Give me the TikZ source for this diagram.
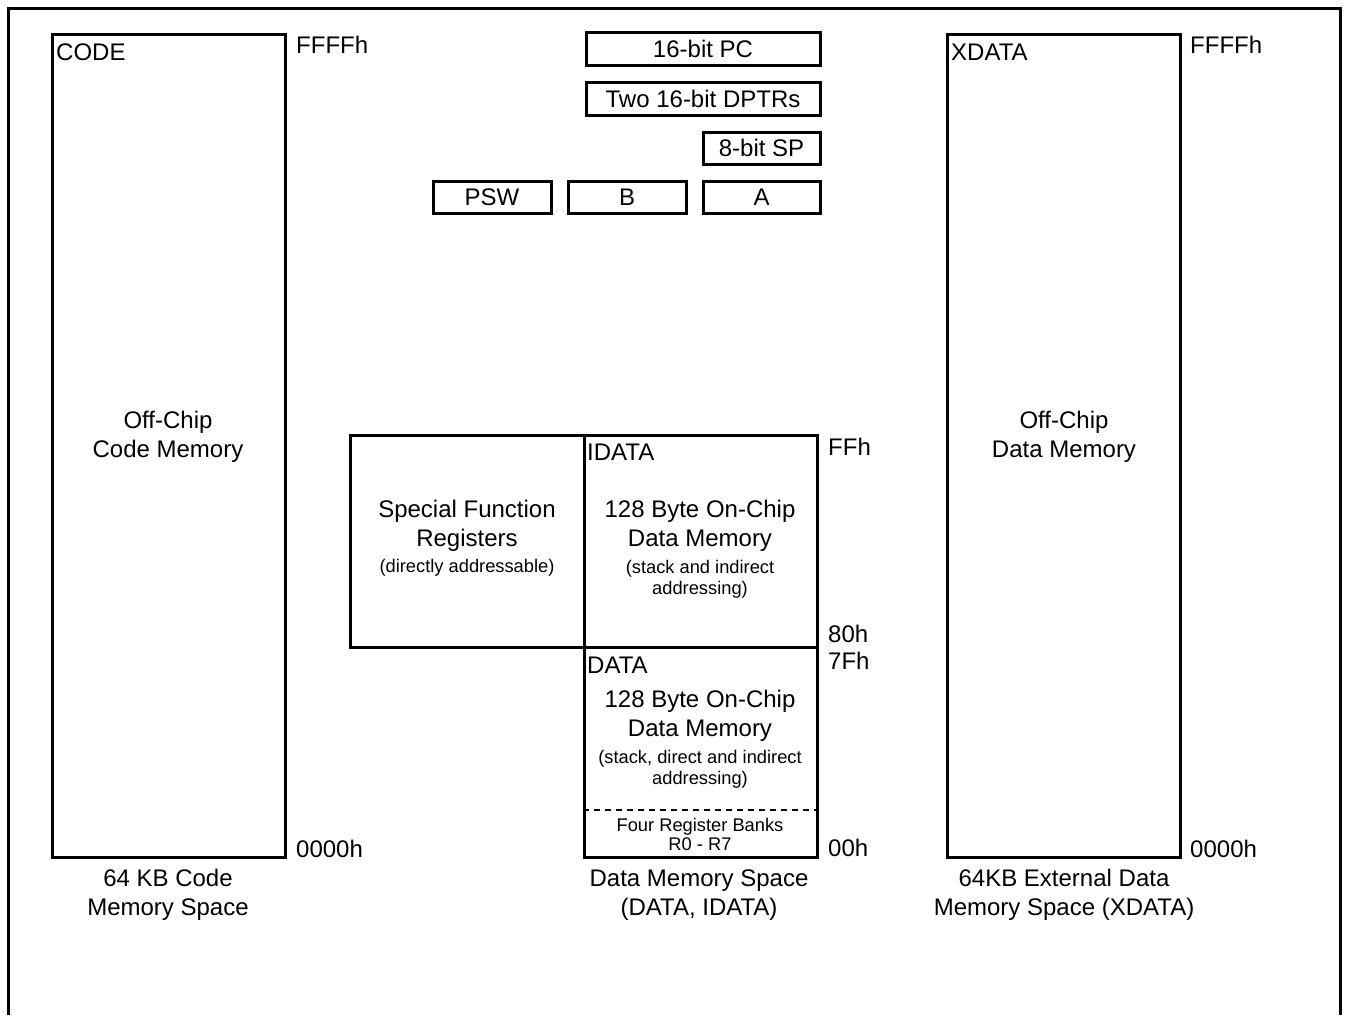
\documentclass[tikz,border=0pt]{standalone}
\usepackage{fontspec}
\setmainfont{Liberation Sans}
\begin{document}
\begin{tikzpicture}[x=1pt,y=-1pt,
  mem/.style={draw,line width=3pt,inner sep=0pt},
  big/.style={font=\fontsize{24}{29}\selectfont,inner sep=0pt,align=center},
  small/.style={font=\fontsize{18.3}{21}\selectfont,inner sep=0pt,align=center},
  tiny/.style={font=\fontsize{18.3}{19}\selectfont,inner sep=0pt,align=center},
  lbl/.style={font=\fontsize{24}{29}\selectfont,inner sep=0pt,anchor=base west},
  reg/.style={mem,font=\fontsize{24}{29}\selectfont}]
\useasboundingbox (0,0) rectangle (1348,1015);
\coordinate (fbl) at (8,1015);
\coordinate (ftl) at (8,8);
\coordinate (ftr) at (1340,8);
\coordinate (fbr) at (1340,1015);
\draw[line width=3pt] (fbl) -- (ftl) -- (ftr) -- (fbr);

% CODE space
\node[mem,minimum width=233,minimum height=823] (code) at (168.5,446) {};
\node[lbl] (codel) at (56,60) {CODE};
\node[lbl] (cff) at (296,53) {FFFFh};
\node[lbl] (c00) at (296,857) {0000h};
\node[big] (codet) at (168,437) {Off-Chip\\Code Memory};
\node[big] (codeb) at (168,894.5) {64 KB Code\\Memory Space};

% XDATA space
\node[mem,minimum width=233,minimum height=823] (xdata) at (1063.5,446) {};
\node[lbl] (xdatal) at (951,60) {XDATA};
\node[lbl] (xff) at (1190,53) {FFFFh};
\node[lbl] (x00) at (1190,857) {0000h};
\node[big] (xdatat) at (1064,437) {Off-Chip\\Data Memory};
\node[big] (xdatab) at (1064,894.5) {64KB External Data\\Memory Space (XDATA)};

% registers
\node[reg,minimum width=234,minimum height=33] (pc) at (703,49) {16-bit PC};
\node[reg,minimum width=234,minimum height=33] (dptr) at (703,99) {Two 16-bit DPTRs};
\node[reg,minimum width=117,minimum height=32] (sp) at (761.5,148) {8-bit SP};
\node[reg,minimum width=118,minimum height=32] (psw) at (492,197.5) {PSW};
\node[reg,minimum width=118,minimum height=32] (b) at (627,197.5) {B};
\node[reg,minimum width=117,minimum height=32] (a) at (761.5,197.5) {A};

% on-chip data
\node[mem,minimum width=234,minimum height=212] (sfr) at (467,541) {};
\node[mem,minimum width=233,minimum height=212] (idata) at (700.5,541) {};
\node[mem,minimum width=233,minimum height=210] (data) at (700.5,752) {};
\draw[line width=1.5pt,dash pattern=on 6pt off 5pt] (data.west |- 0,810) coordinate (dl) -- (data.east |- 0,810) coordinate (dr);

\node[big] (sfrt) at (467,526) {Special Function\\Registers};
\node[small] (sfrs) at (467,568) {(directly addressable)};

\node[lbl] (idatal) at (587,460) {IDATA};
\node[big] (idatat) at (700,526) {128 Byte On-Chip\\Data Memory};
\node[small] (idatas) at (700,579) {(stack and indirect\\addressing)};

\node[lbl] (datal) at (587,673) {DATA};
\node[big] (datat) at (700,716) {128 Byte On-Chip\\Data Memory};
\node[small] (datas) at (700,769) {(stack, direct and indirect\\addressing)};
\node[tiny] (banks) at (700,834) {Four Register Banks\\R0 - R7};

\node[lbl] (dff) at (828,455) {FFh};
\node[lbl] (d80) at (828,642) {80h};
\node[lbl] (d7f) at (828,669) {7Fh};
\node[lbl] (d00) at (828,856) {00h};
\node[big] (datab) at (699,895) {Data Memory Space\\(DATA, IDATA)};
\end{tikzpicture}
\end{document}
